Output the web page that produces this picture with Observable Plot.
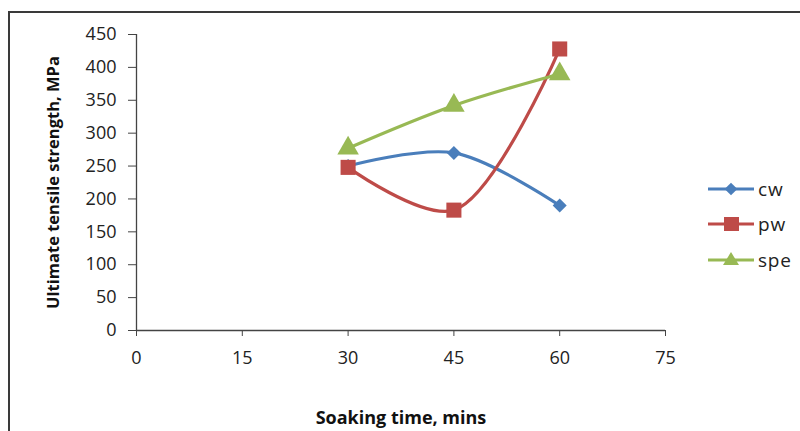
<!DOCTYPE html>
<html>
<head>
<meta charset="utf-8">
<script src="https://cdn.jsdelivr.net/npm/d3@7"></script>
<script src="https://cdn.jsdelivr.net/npm/@observablehq/plot@0.6"></script>
<style>
  html, body { margin: 0; padding: 0; background: #fff; }
  #wrap { position: relative; width: 800px; height: 431px; overflow: hidden; font-family: "Open Sans", sans-serif; }
  #frame { position: absolute; left: 8px; top: 11px; width: 800px; height: 440px; border-top: 2px solid #3a3a3a; border-left: 2px solid #3a3a3a; box-sizing: border-box; pointer-events: none; }
  #legend { position: absolute; left: 706px; top: 176px; }
  .item { position: absolute; left: 0; height: 26px; display: flex; align-items: center; font-size: 19px; color: #222; letter-spacing: 0.8px; white-space: nowrap; }
  .item svg { margin-right: 2px; }
</style>
</head>
<body>
<div id="wrap">
  <div id="chart"></div>
  <div id="frame"></div>
  <div id="legend"></div>
</div>
<script>
const times = [30, 45, 60];
const cw  = [250, 270, 190];
const pw  = [248, 183, 428];
const spe = [277, 342, 390];
const seriesNames = ["cw", "pw", "spe"];
const colors = ["#4a7ebb", "#be4b48", "#98b954"];
const xTicks = [0, 15, 30, 45, 60, 75];
const yTicks = [0, 50, 100, 150, 200, 250, 300, 350, 400, 450];

const valuesBySeries = [cw, pw, spe];
const data = [];
seriesNames.forEach((s, i) => times.forEach((t, j) => data.push({series: s, time: t, value: valuesBySeries[i][j]})));

const colorScale = {domain: seriesNames, range: colors};

const chart = Plot.plot({
  width: 800,
  height: 431,
  marginLeft: 136,
  marginRight: 135,
  marginTop: 34,
  marginBottom: 101,
  style: {fontFamily: "Open Sans, sans-serif", fontSize: "18px", color: "#222", background: "white", overflow: "visible"},
  x: {domain: [0, 75], ticks: xTicks},
  y: {domain: [0, 450], ticks: yTicks},
  color: colorScale,
  marks: [
    Plot.axisX({ticks: xTicks, tickSize: 6, tickPadding: 15, stroke: "#444", fill: "#222", label: null, fontSize: 18, letterSpacing: 1.2}),
    Plot.axisY({ticks: yTicks, tickSize: 8, tickPadding: 12, stroke: "#444", fill: "#222", label: null, fontSize: 18, letterSpacing: 1.2}),
    Plot.ruleX([0], {stroke: "#444", strokeWidth: 1.3}),
    Plot.ruleY([0], {stroke: "#444", strokeWidth: 1.3}),
    Plot.line(data, {x: "time", y: "value", z: "series", stroke: "series", strokeWidth: 3.2, curve: "catmull-rom"}),
    Plot.dot(data.filter(d => d.series === "cw"), {x: "time", y: "value", fill: "series", symbol: "square", r: 5.6, rotate: 45, stroke: "none"}),
    Plot.dot(data.filter(d => d.series === "pw"), {x: "time", y: "value", fill: "series", symbol: "square", r: 8.5, stroke: "none"}),
    Plot.dot(data.filter(d => d.series === "spe"), {x: "time", y: "value", fill: "series", symbol: "triangle", r: 8, stroke: "none"}),
    Plot.text(["Ultimate tensile strength, MPa"], {frameAnchor: "left", textAnchor: "middle", dx: -83, rotate: -90, fontWeight: "bold", fontSize: 16.5, fill: "#111"}),
    Plot.text(["Soaking time, mins"], {x: 37.5, frameAnchor: "bottom", dy: 93, fontWeight: "bold", fontSize: 18, fill: "#111"})
  ]
});
document.getElementById("chart").appendChild(chart);

// legend
const legend = document.getElementById("legend");
const offsets = [0, 35, 71];
seriesNames.forEach((s, i) => {
  const item = document.createElement("div");
  item.className = "item";
  item.style.top = offsets[i] + "px";
  const sym = s === "cw"
    ? `<rect x="20.5" y="8.5" width="9" height="9" fill="${colors[i]}" transform="rotate(45 25 13)"/>`
    : s === "pw"
    ? `<rect x="18" y="6" width="15" height="14" fill="${colors[i]}"/>`
    : `<polygon points="25,5 33,18 17,18" fill="${colors[i]}"/>`;
  item.innerHTML = `<svg width="50" height="26"><line x1="2" x2="48" y1="13" y2="13" stroke="${colors[i]}" stroke-width="3.2"/>${sym}</svg><span>${s}</span>`;
  legend.appendChild(item);
});
</script>
</body>
</html>
